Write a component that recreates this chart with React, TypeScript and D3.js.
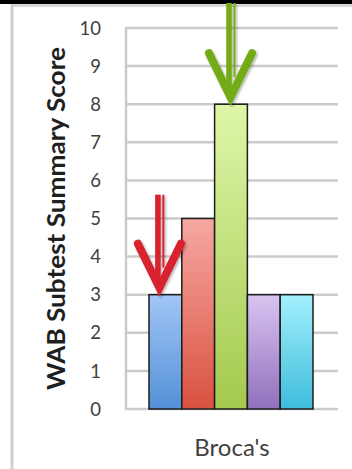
import React from "react";
import * as d3 from "d3";

// Chart data
const categories: string[] = ["Broca's"];
const seriesNames: string[] = ["S1", "S2", "S3", "S4", "S5"];
const seriesValues: number[] = [3, 5, 8, 3, 3];
const yTicks: number[] = [0, 1, 2, 3, 4, 5, 6, 7, 8, 9, 10];
const yTitle = "WAB Subtest Summary Score";
const gradTop: string[] = ["#a2c6f6", "#f6a8a2", "#def6a8", "#d9c4f0", "#a3f0fd"];
const gradBottom: string[] = ["#5390d6", "#d9513f", "#a4c94e", "#9070bd", "#3ebcdb"];

// Arrow annotations: which bar they point at and their colour
const arrowTargets: number[] = [0, 2];
const arrowColors: string[] = ["#d8202e", "#72ab14"];
const arrowOffsets: number[] = [-6, -0.5];

const W = 352;
const H = 469;
const plot = { left: 126, right: 338, top: 28, bottom: 409 };

export default function App() {
  const y = d3.scaleLinear().domain([0, 10]).range([plot.bottom, plot.top]);
  const x0 = d3.scaleBand<string>().domain(categories).range([plot.left, plot.right]);
  const x1 = d3
    .scaleBand<string>()
    .domain(seriesNames)
    .range([23, x0.bandwidth() - 25]);

  const font = "Lato, 'Open Sans', sans-serif";

  return (
    <div style={{ position: "fixed", left: 0, top: 0 }}>
      <svg width={W} height={H} style={{ display: "block", background: "#fff" }}>
        <defs>
          {seriesNames.map((s, i) => (
            <linearGradient key={s} id={`g${i}`} x1="0" y1="0" x2="0" y2="1">
              <stop offset="0%" stopColor={gradTop[i]} />
              <stop offset="100%" stopColor={gradBottom[i]} />
            </linearGradient>
          ))}
          <filter id="shadow" x="-30%" y="-10%" width="160%" height="130%">
            <feDropShadow dx="1.5" dy="1.5" stdDeviation="1.2" floodColor="#000" floodOpacity="0.3" />
          </filter>
        </defs>

        {/* outer frame */}
        <line x1={12} y1={4} x2={12} y2={H} stroke="#d0d0d0" strokeWidth={3} />
        <line x1={11} y1={5.5} x2={W} y2={5.5} stroke="#d0d0d0" strokeWidth={2.5} />
        <rect x={0} y={0} width={W} height={4} fill="#000" />

        {/* gridlines */}
        {yTicks.map((t) => (
          <line
            key={t}
            x1={plot.left - 1}
            x2={plot.right}
            y1={y(t)}
            y2={y(t)}
            stroke="#cbcbcb"
            strokeWidth={2.5}
          />
        ))}
        <line x1={plot.left} x2={plot.left} y1={plot.top - 1} y2={plot.bottom + 1} stroke="#cbcbcb" strokeWidth={2.5} />

        {/* tick labels */}
        {yTicks.map((t) => (
          <text
            key={t}
            x={101}
            y={y(t)}
            dy="0.36em"
            textAnchor="end"
            fontFamily={font}
            fontSize={18.5}
            fill="#404040"
          >
            {t}
          </text>
        ))}

        {/* axis title */}
        <text
          transform={`translate(65,${218.5}) rotate(-90)`}
          textAnchor="middle"
          fontFamily={font}
          fontWeight="bold"
          fontSize={24}
          fill="#1f1f1f"
          textLength={343}
          lengthAdjust="spacingAndGlyphs"
        >
          {yTitle}
        </text>

        {/* bars */}
        {categories.map((c) => (
          <g key={c} transform={`translate(${x0(c)},0)`}>
            {seriesNames.map((s, i) => (
              <rect
                key={s}
                x={x1(s)}
                y={y(seriesValues[i])}
                width={x1.bandwidth()}
                height={y(0) - y(seriesValues[i])}
                fill={`url(#g${i})`}
                stroke="#1c1c1c"
                strokeWidth={1.5}
              />
            ))}
            <text
              x={x0.bandwidth() / 2}
              y={456}
              textAnchor="middle"
              fontFamily={font}
              fontSize={24}
              fill="#404040"
            >
              {c}
            </text>
          </g>
        ))}

        {/* arrows pointing at bars */}
        {arrowTargets.map((idx, k) => {
          const cx = (x0(categories[0]) ?? 0) + (x1(seriesNames[idx]) ?? 0) + x1.bandwidth() / 2 + arrowOffsets[k];
          const tipY = y(seriesValues[idx]) - 5;
          const topY = k === 0 ? tipY - 95 : 3;
          const armDx = 21.5;
          const armDy = 46;
          const col = arrowColors[k];
          return (
            <g key={k} filter="url(#shadow)">
              <line x1={cx - 1.5} y1={topY} x2={cx - 1.5} y2={tipY - 4} stroke={col} strokeWidth={5.5} />
              <line x1={cx + 4} y1={topY} x2={cx + 4} y2={tipY - 22} stroke={col} strokeWidth={2} />
              <path
                d={`M${cx - armDx},${tipY - armDy} L${cx},${tipY - 2} L${cx + armDx},${tipY - armDy}`}
                fill="none"
                stroke={col}
                strokeWidth={8}
                strokeLinecap="round"
                strokeLinejoin="miter"
              />
            </g>
          );
        })}
      </svg>
    </div>
  );
}
